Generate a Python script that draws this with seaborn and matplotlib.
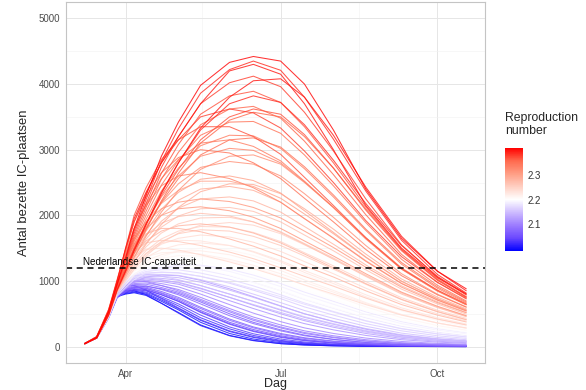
import matplotlib
matplotlib.use("Agg")
import matplotlib.pyplot as plt
import matplotlib.dates as mdates
import numpy as np
import pandas as pd
import seaborn as sns

from matplotlib.colors import LinearSegmentedColormap, Normalize
from matplotlib.cm import ScalarMappable

## Data (occupied IC beds per simulated run)
dates = pd.to_datetime([
    "2020-03-08", "2020-03-15", "2020-03-22", "2020-03-27", "2020-04-01",
    "2020-04-06", "2020-04-13", "2020-04-22", "2020-05-02", "2020-05-15",
    "2020-06-01", "2020-06-15", "2020-07-01", "2020-07-15", "2020-08-01",
    "2020-08-20", "2020-09-10", "2020-10-01", "2020-10-18",
])

blue_r = [1.99, 2.00, 2.01, 2.02, 2.03, 2.04, 2.05, 2.06, 2.07, 2.08, 2.09, 2.10]
blue_runs = [
    [45, 130, 450, 760, 800, 820, 780, 660, 520, 330, 170, 95, 45, 25, 12, 5, 2, 1, 0],
    [45, 130, 450, 770, 810, 830, 800, 690, 560, 370, 200, 115, 60, 33, 17, 8, 3, 1, 1],
    [45, 135, 460, 780, 820, 845, 815, 710, 580, 400, 230, 140, 75, 43, 22, 11, 5, 2, 1],
    [45, 135, 460, 780, 830, 860, 830, 740, 620, 440, 270, 170, 95, 57, 30, 15, 6, 3, 2],
    [45, 135, 460, 790, 840, 870, 850, 760, 650, 480, 300, 195, 115, 70, 38, 20, 9, 5, 3],
    [45, 135, 465, 790, 850, 885, 870, 790, 690, 520, 340, 230, 140, 90, 52, 27, 13, 7, 4],
    [45, 135, 465, 800, 860, 900, 885, 810, 710, 550, 370, 260, 165, 108, 64, 35, 17, 9, 6],
    [45, 135, 470, 800, 870, 915, 905, 840, 750, 600, 420, 300, 200, 135, 84, 48, 24, 13, 9],
    [45, 135, 470, 810, 880, 930, 925, 870, 790, 650, 470, 350, 240, 165, 108, 64, 33, 19, 13],
    [45, 135, 470, 810, 890, 945, 950, 900, 830, 700, 530, 400, 285, 200, 135, 82, 45, 27, 18],
    [45, 140, 475, 815, 900, 960, 970, 930, 870, 750, 580, 450, 330, 240, 165, 105, 60, 37, 26],
    [45, 140, 475, 820, 910, 980, 995, 960, 910, 800, 640, 510, 380, 285, 200, 130, 78, 49, 35],
]

mid_r = [2.11, 2.12, 2.13, 2.14, 2.15, 2.16, 2.17, 2.18, 2.19, 2.20, 2.21, 2.22]
mid_runs = [
    [45, 140, 480, 820, 920, 990, 1010, 990, 950, 850, 700, 580, 450, 350, 255, 170, 105, 68, 50],
    [45, 140, 480, 825, 930, 1000, 1030, 1010, 980, 890, 750, 630, 500, 395, 295, 200, 125, 82, 60],
    [45, 140, 480, 830, 935, 1010, 1050, 1040, 1010, 930, 800, 690, 555, 445, 340, 235, 150, 100, 74],
    [45, 140, 485, 830, 945, 1030, 1075, 1070, 1050, 980, 860, 750, 615, 500, 385, 275, 180, 120, 90],
    [45, 140, 485, 835, 950, 1040, 1095, 1100, 1085, 1020, 910, 800, 670, 550, 430, 310, 205, 140, 105],
    [45, 140, 485, 840, 960, 1060, 1120, 1135, 1125, 1070, 965, 860, 730, 605, 480, 350, 240, 165, 125],
    [45, 140, 490, 840, 970, 1075, 1145, 1170, 1170, 1120, 1025, 925, 790, 665, 535, 395, 275, 195, 148],
    [45, 140, 490, 845, 980, 1090, 1170, 1205, 1210, 1170, 1080, 980, 850, 720, 585, 440, 310, 220, 168],
    [45, 140, 490, 850, 990, 1110, 1200, 1245, 1260, 1230, 1145, 1045, 915, 785, 645, 490, 350, 250, 192],
    [45, 140, 495, 855, 1000, 1130, 1235, 1290, 1320, 1300, 1220, 1120, 990, 855, 710, 545, 395, 285, 220],
    [45, 140, 495, 860, 1010, 1150, 1270, 1345, 1385, 1380, 1310, 1210, 1075, 935, 780, 605, 440, 320, 250],
    [45, 140, 495, 865, 1020, 1170, 1310, 1400, 1455, 1460, 1400, 1300, 1160, 1015, 855, 670, 490, 360, 280],
]

salmon_r = [2.23, 2.24, 2.25, 2.26, 2.27, 2.28, 2.29, 2.30, 2.26, 2.28, 2.24, 2.31]
salmon_runs = [
    [45, 140, 500, 870, 1040, 1200, 1360, 1480, 1550, 1580, 1540, 1450, 1310, 1160, 990, 790, 590, 440, 345],
    [45, 140, 500, 875, 1060, 1230, 1410, 1560, 1650, 1700, 1670, 1590, 1450, 1295, 1110, 890, 670, 500, 390],
    [45, 140, 500, 880, 1080, 1260, 1460, 1640, 1760, 1830, 1820, 1740, 1600, 1430, 1230, 990, 745, 555, 430],
    [45, 140, 505, 885, 1100, 1300, 1520, 1730, 1870, 1960, 1970, 1900, 1750, 1570, 1350, 1085, 815, 605, 465],
    [45, 140, 505, 890, 1120, 1340, 1580, 1820, 1990, 2100, 2120, 2060, 1900, 1700, 1460, 1170, 875, 650, 495],
    [45, 140, 505, 895, 1140, 1370, 1640, 1910, 2110, 2250, 2280, 2220, 2050, 1830, 1560, 1245, 925, 685, 520],
    [45, 140, 510, 900, 1160, 1410, 1700, 2000, 2230, 2400, 2440, 2380, 2200, 1950, 1655, 1310, 965, 710, 540],
    [45, 140, 510, 905, 1180, 1450, 1760, 2090, 2350, 2550, 2600, 2530, 2340, 2070, 1740, 1365, 995, 730, 555],
    [45, 140, 510, 920, 1250, 1450, 1580, 1620, 1600, 1540, 1440, 1340, 1200, 1070, 920, 740, 560, 420, 330],
    [45, 140, 510, 930, 1300, 1550, 1720, 1800, 1800, 1750, 1640, 1530, 1380, 1230, 1060, 850, 640, 480, 375],
    [45, 140, 505, 910, 1200, 1380, 1480, 1500, 1470, 1400, 1290, 1190, 1060, 940, 800, 640, 480, 360, 285],
    [45, 140, 515, 940, 1350, 1650, 1900, 2100, 2200, 2250, 2210, 2120, 1960, 1760, 1510, 1210, 905, 670, 515],
]

red_r = [2.32, 2.33, 2.34, 2.35, 2.36, 2.37, 2.38, 2.39, 2.41, 2.40, 2.33, 2.35, 2.37]
red_runs = [
    [45, 140, 515, 910, 1200, 1480, 1820, 2190, 2480, 2730, 2820, 2780, 2600, 2330, 1970, 1540, 1110, 800, 605],
    [45, 140, 515, 915, 1220, 1520, 1880, 2280, 2600, 2900, 3020, 2990, 2800, 2510, 2120, 1650, 1180, 845, 635],
    [45, 140, 520, 920, 1240, 1560, 1940, 2370, 2720, 3060, 3220, 3210, 3020, 2710, 2280, 1770, 1255, 890, 665],
    [45, 140, 520, 925, 1260, 1600, 2000, 2460, 2840, 3220, 3420, 3430, 3250, 2920, 2450, 1890, 1330, 935, 695],
    [45, 140, 520, 930, 1280, 1640, 2060, 2550, 2960, 3380, 3620, 3660, 3480, 3130, 2620, 2010, 1405, 980, 725],
    [45, 140, 525, 935, 1300, 1680, 2120, 2640, 3080, 3540, 3820, 3890, 3720, 3350, 2800, 2130, 1480, 1020, 755],
    [45, 140, 525, 940, 1320, 1720, 2180, 2730, 3200, 3700, 4020, 4120, 3960, 3570, 2980, 2250, 1550, 1060, 785],
    [45, 140, 525, 945, 1340, 1760, 2240, 2820, 3320, 3860, 4220, 4350, 4210, 3800, 3160, 2370, 1620, 1100, 815],
    [45, 140, 530, 950, 1360, 1800, 2300, 2900, 3420, 3980, 4330, 4420, 4350, 4000, 3300, 2400, 1650, 1150, 880],
    [45, 140, 540, 1000, 1500, 1950, 2350, 2800, 3200, 3700, 4200, 4300, 4150, 3700, 3000, 2150, 1500, 1050, 800],
    [45, 140, 520, 950, 1400, 1800, 2150, 2450, 2600, 2650, 2560, 2420, 2200, 1950, 1650, 1300, 960, 710, 545],
    [45, 140, 525, 960, 1450, 1900, 2280, 2650, 2880, 3000, 2950, 2800, 2560, 2260, 1900, 1480, 1080, 790, 600],
    [45, 140, 530, 980, 1500, 2000, 2420, 2850, 3150, 3350, 3350, 3200, 2930, 2580, 2150, 1660, 1190, 860, 650],
]

# runs whose timing differs (earlier / later rise), so the bundle crosses itself
mixed_r = [2.03, 2.06, 2.09, 2.12, 2.15, 2.18, 2.20, 2.21, 2.23, 2.25,
           2.27, 2.29, 2.30, 2.32, 2.34, 2.36, 2.38, 2.39, 2.31, 2.35,
           2.28, 2.26, 2.22, 2.17, 2.14, 2.07, 2.04, 2.01, 2.40, 2.37]
mixed_runs = [
    [45, 150, 520, 860, 940, 930, 860, 730, 590, 410, 240, 150, 85, 50, 26, 12, 5, 2, 1],
    [45, 130, 430, 740, 840, 900, 920, 880, 810, 680, 500, 370, 255, 175, 110, 62, 30, 16, 10],
    [45, 150, 520, 870, 960, 1000, 990, 930, 850, 720, 550, 420, 300, 215, 145, 88, 48, 28, 19],
    [45, 130, 440, 760, 880, 980, 1060, 1090, 1080, 1010, 880, 760, 620, 500, 380, 265, 170, 112, 83],
    [45, 150, 520, 880, 1010, 1080, 1100, 1070, 1020, 930, 800, 690, 565, 455, 350, 245, 160, 108, 80],
    [45, 130, 440, 770, 900, 1020, 1130, 1200, 1240, 1240, 1180, 1090, 960, 830, 690, 530, 380, 275, 212],
    [45, 150, 530, 900, 1080, 1200, 1280, 1300, 1280, 1210, 1090, 980, 850, 725, 590, 450, 325, 235, 182],
    [45, 130, 450, 790, 940, 1090, 1240, 1370, 1450, 1500, 1470, 1390, 1250, 1100, 930, 740, 545, 400, 310],
    [45, 150, 540, 930, 1150, 1330, 1480, 1580, 1620, 1610, 1540, 1440, 1290, 1130, 960, 760, 565, 420, 330],
    [45, 130, 460, 820, 1000, 1180, 1380, 1580, 1730, 1850, 1890, 1850, 1720, 1550, 1340, 1085, 820, 610, 470],
    [45, 150, 550, 960, 1250, 1480, 1700, 1880, 1980, 2030, 1990, 1900, 1740, 1560, 1330, 1070, 800, 595, 455],
    [45, 130, 470, 840, 1060, 1290, 1560, 1860, 2120, 2360, 2480, 2470, 2330, 2100, 1790, 1410, 1030, 755, 575],
    [45, 150, 555, 980, 1330, 1620, 1900, 2180, 2380, 2520, 2520, 2440, 2260, 2020, 1720, 1360, 995, 730, 560],
    [45, 130, 475, 850, 1100, 1360, 1680, 2050, 2380, 2700, 2900, 2920, 2780, 2500, 2120, 1660, 1200, 860, 640],
    [45, 150, 560, 1000, 1420, 1800, 2170, 2560, 2850, 3100, 3150, 3050, 2830, 2520, 2120, 1640, 1180, 850, 640],
    [45, 130, 480, 860, 1130, 1420, 1780, 2220, 2640, 3100, 3450, 3570, 3500, 3200, 2720, 2100, 1480, 1030, 760],
    [45, 150, 565, 1020, 1480, 1900, 2330, 2800, 3150, 3500, 3620, 3560, 3330, 2980, 2500, 1920, 1370, 980, 735],
    [45, 130, 485, 870, 1160, 1480, 1870, 2350, 2800, 3300, 3700, 3820, 3720, 3380, 2840, 2180, 1540, 1070, 800],
    [45, 150, 550, 970, 1300, 1560, 1800, 2000, 2100, 2130, 2070, 1970, 1800, 1610, 1380, 1110, 830, 615, 470],
    [45, 140, 500, 900, 1180, 1460, 1800, 2200, 2560, 2920, 3150, 3180, 3040, 2740, 2310, 1790, 1280, 910, 680],
    [45, 150, 545, 950, 1210, 1420, 1610, 1760, 1840, 1870, 1820, 1730, 1580, 1410, 1200, 960, 720, 535, 410],
    [45, 130, 465, 830, 1030, 1220, 1420, 1600, 1720, 1780, 1760, 1680, 1540, 1380, 1180, 950, 715, 530, 410],
    [45, 150, 535, 920, 1110, 1260, 1370, 1430, 1440, 1410, 1330, 1240, 1110, 980, 830, 655, 485, 360, 280],
    [45, 140, 480, 830, 960, 1050, 1110, 1130, 1120, 1070, 980, 880, 760, 645, 525, 390, 270, 192, 146],
    [45, 150, 520, 880, 990, 1040, 1050, 1020, 970, 880, 750, 640, 520, 415, 315, 220, 142, 95, 70],
    [45, 140, 470, 800, 870, 905, 890, 820, 730, 580, 400, 285, 185, 125, 78, 44, 22, 12, 8],
    [45, 130, 440, 750, 830, 870, 860, 790, 690, 530, 350, 240, 150, 96, 56, 30, 14, 8, 5],
    [45, 150, 510, 830, 860, 850, 790, 660, 510, 320, 165, 90, 45, 24, 11, 5, 2, 1, 0],
    [45, 130, 480, 860, 1150, 1460, 1850, 2330, 2800, 3330, 3800, 4050, 4080, 3800, 3220, 2430, 1680, 1150, 850],
    [45, 140, 500, 900, 1200, 1500, 1870, 2300, 2700, 3150, 3500, 3620, 3540, 3230, 2720, 2080, 1460, 1010, 750],
]

ic_capacity = 1200
r_limits = (1.99, 2.41)

## Build long table
all_r = blue_r + mid_r + salmon_r + red_r + mixed_r
all_runs = blue_runs + mid_runs + salmon_runs + red_runs + mixed_runs
frames = []
for i, (r, vals) in enumerate(zip(all_r, all_runs)):
    frames.append(pd.DataFrame({"Dag": dates, "IC": vals, "R": r, "run": i}))
df = pd.concat(frames, ignore_index=True)

## Plot
sns.set_style("white")
plt.rcParams['font.family'] = ['Liberation Sans', 'DejaVu Sans']

cmap = LinearSegmentedColormap.from_list("rwb", [
    (0.0, "#0000ff"), (0.125, "#6a48ff"), (0.25, "#9d7dff"), (0.375, "#cdbbff"),
    (0.5, "#ffffff"), (0.625, "#ffcfc2"), (0.75, "#ff9e85"), (0.875, "#ff6a4e"),
    (1.0, "#ff0000"),
])
norm = Normalize(*r_limits)

fig = plt.figure(figsize=(5.86, 3.90), dpi=100)
ax = fig.add_axes([66 / 586, 1 - 363 / 390, 419 / 586, 361 / 390])

sns.lineplot(data=df, x="Dag", y="IC", hue="R", units="run", estimator=None,
             palette=cmap, hue_norm=norm, linewidth=0.75, alpha=0.8,
             legend=False, ax=ax)

ax.axhline(ic_capacity, color="black", linestyle=(0, (4, 3)), linewidth=1.1)
ax.text(pd.Timestamp("2020-03-07"), ic_capacity + 40, "Nederlandse IC-capaciteit",
        fontsize=7.1, color="black", va="baseline", ha="left")

ax.set_xlim(pd.Timestamp("2020-02-26"), pd.Timestamp("2020-10-29"))
ax.set_ylim(-250, 5250)
ax.set_yticks(np.arange(0, 5001, 1000))
ax.set_yticks(np.arange(500, 5001, 1000), minor=True)
ax.set_xticks(pd.to_datetime(["2020-04-01", "2020-07-01", "2020-10-01"]))
ax.set_xticks(pd.to_datetime(["2020-05-16", "2020-08-16"]), minor=True)
ax.xaxis.set_major_formatter(mdates.DateFormatter("%b"))

ax.grid(which="major", color="#e6e6e6", linewidth=0.7)
ax.grid(which="minor", color="#f2f2f2", linewidth=0.4)
ax.set_axisbelow(True)
for s in ax.spines.values():
    s.set_color("#c4c4c4")
    s.set_linewidth(0.8)
ax.tick_params(which="major", length=2.8, width=0.6, color="#b3b3b3",
               labelsize=7, labelcolor="#4d4d4d", pad=1.5)
ax.tick_params(which="minor", length=0)
ax.set_xlabel("Dag", fontsize=9, labelpad=-0.5)
ax.set_ylabel("Antal bezette IC-plaatsen", fontsize=9.4, labelpad=6)

## Colour bar legend
cax = fig.add_axes([505 / 586, 1 - 251 / 390, 18 / 586, 103 / 390])
cb = fig.colorbar(ScalarMappable(norm=norm, cmap=cmap), cax=cax)
cb.outline.set_visible(False)
cb.set_ticks([2.1, 2.2, 2.3])
cax.tick_params(length=3.5, width=0.8, color="white", direction="in",
                labelsize=7, labelcolor="#333333", pad=3, left=True)
fig.text(505 / 586, 1 - 112 / 390, "Reproduction\nnumber", fontsize=8.8,
         va="top", ha="left", linespacing=1.1)

fig.savefig("out.png", dpi=100)
